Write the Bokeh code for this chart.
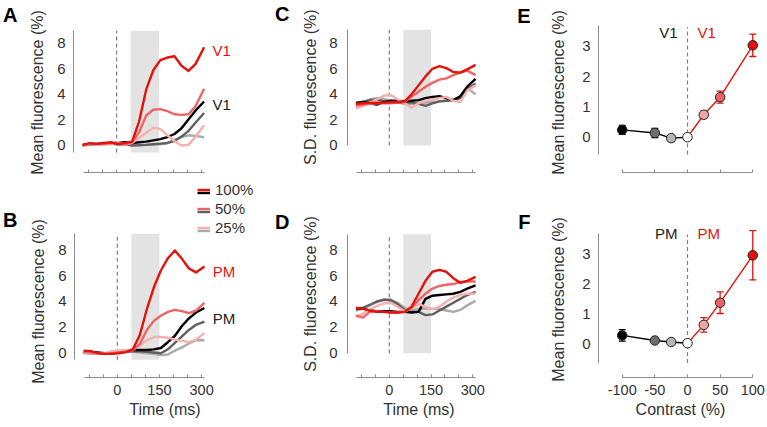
from bokeh.plotting import figure
from bokeh.models import (Range1d, FixedTicker, Legend, LegendItem, Label, LinearAxis,
                          Whisker, TeeHead, ColumnDataSource)
from bokeh.layouts import row, column
from bokeh.embed import file_html
from bokeh.resources import INLINE

# ---------------- data ----------------
time_ms = [-120, -95, -70, -45, -20, 5, 30, 55, 80, 105, 130, 155, 180, 205, 230, 255, 280, 310]
time_ticks = [-100, -50, 0, 50, 100, 150, 200, 250, 300]
time_tick_labels = {-100: "", -50: "", 0: "0", 50: "", 100: "", 150: "150", 200: "", 250: "", 300: "300"}
stim_on = 50
stim_off = 150

# A: V1 mean fluorescence
a_red100 = [0.05, 0.18, 0.13, 0.20, 0.25, 0.12, 0.20, 0.30, 1.90, 4.40, 5.90, 6.70, 6.90, 7.00, 6.25, 5.85, 6.40, 7.70]
a_red50 = [0.00, 0.10, 0.15, 0.10, 0.20, 0.15, 0.10, 0.25, 1.05, 2.35, 2.80, 2.85, 2.70, 2.45, 2.40, 2.45, 3.10, 4.45]
a_red25 = [-0.05, 0.15, 0.05, 0.20, 0.10, 0.25, 0.05, 0.20, 0.60, 1.00, 1.40, 1.30, 0.80, 0.35, 0.00, 0.05, 0.70, 1.60]
a_blk100 = [0.00, 0.15, 0.10, 0.15, 0.20, 0.20, 0.25, 0.20, 0.25, 0.30, 0.40, 0.50, 0.65, 0.90, 1.35, 2.05, 2.75, 3.45]
a_gry50 = [0.05, 0.10, 0.10, 0.15, 0.15, 0.10, 0.10, 0.00, 0.02, 0.05, 0.10, 0.15, 0.20, 0.35, 0.70, 1.15, 1.80, 2.55]
a_gry25 = [0.05, 0.10, 0.15, 0.10, 0.15, 0.10, 0.10, 0.05, 0.05, 0.05, 0.10, 0.10, 0.20, 0.45, 0.65, 0.80, 0.75, 0.65]

# B: PM mean fluorescence
b_red100 = [0.20, 0.16, 0.00, -0.05, -0.05, 0.00, 0.08, 0.29, 1.40, 3.40, 5.10, 6.40, 7.35, 7.95, 7.30, 6.55, 6.25, 6.70]
b_red50 = [0.10, 0.05, 0.00, -0.05, 0.00, 0.05, 0.10, 0.25, 0.70, 1.80, 2.50, 2.90, 3.20, 3.35, 3.25, 3.10, 3.30, 3.90]
b_red25 = [0.05, 0.00, -0.05, 0.00, 0.15, 0.20, 0.25, 0.25, 0.60, 1.00, 1.25, 1.25, 1.20, 1.05, 0.95, 0.85, 1.05, 1.55]
b_blk100 = [0.10, 0.10, 0.05, 0.00, 0.00, 0.05, 0.15, 0.25, 0.25, 0.25, 0.30, 0.40, 0.85, 1.35, 2.10, 2.70, 3.15, 3.50]
b_gry50 = [0.05, 0.00, -0.05, -0.05, 0.00, 0.05, 0.10, 0.15, 0.15, 0.10, 0.05, 0.00, 0.30, 0.80, 1.30, 1.80, 2.20, 2.45]
b_gry25 = [0.00, 0.00, -0.05, -0.05, 0.00, 0.05, 0.10, 0.10, 0.05, 0.00, -0.05, -0.15, -0.10, 0.20, 0.45, 0.75, 1.00, 1.00]

# C: V1 S.D. fluorescence
c_red100 = [3.26, 3.30, 3.33, 3.34, 3.35, 3.38, 3.40, 3.45, 4.00, 4.70, 5.40, 6.00, 6.20, 6.05, 5.75, 5.70, 5.95, 6.30]
c_red50 = [3.10, 3.20, 3.25, 3.30, 3.30, 3.30, 3.35, 3.40, 3.80, 4.20, 4.60, 4.90, 5.15, 5.25, 5.50, 5.70, 5.85, 5.50]
c_red25 = [2.90, 3.10, 3.35, 3.60, 3.90, 3.95, 3.60, 3.30, 2.95, 3.30, 3.50, 3.60, 3.70, 3.80, 3.50, 3.40, 4.30, 4.70]
c_blk100 = [3.33, 3.40, 3.30, 3.20, 3.40, 3.50, 3.50, 3.45, 3.50, 3.55, 3.70, 3.80, 3.85, 3.70, 3.55, 3.85, 4.60, 5.20]
c_gry50 = [3.30, 3.40, 3.55, 3.60, 3.45, 3.35, 3.35, 3.35, 3.35, 3.25, 3.10, 3.30, 3.45, 3.50, 3.55, 3.70, 4.40, 4.85]
c_gry25 = [3.20, 3.40, 3.60, 3.70, 3.65, 3.50, 3.35, 3.25, 3.25, 3.30, 3.35, 3.40, 3.45, 3.50, 3.55, 3.70, 4.50, 4.00]

# D: PM S.D. fluorescence
d_red100 = [3.50, 3.45, 3.30, 3.20, 3.20, 3.15, 3.15, 3.20, 3.60, 4.60, 5.60, 6.30, 6.45, 6.30, 5.80, 5.45, 5.60, 5.90]
d_red50 = [2.90, 2.75, 3.20, 3.25, 3.20, 3.15, 3.15, 3.20, 3.50, 4.10, 4.60, 5.00, 5.20, 5.30, 5.35, 5.50, 5.55, 5.55]
d_red25 = [2.85, 3.05, 3.40, 3.65, 3.85, 3.90, 3.60, 3.25, 3.45, 3.80, 3.60, 3.40, 3.60, 4.00, 4.30, 4.50, 4.60, 4.60]
d_blk100 = [3.50, 3.45, 3.30, 3.25, 3.25, 3.25, 3.20, 3.20, 3.15, 3.20, 4.20, 4.45, 4.50, 4.55, 4.60, 4.75, 5.00, 5.25]
d_gry50 = [3.40, 3.50, 3.75, 4.00, 4.15, 4.10, 3.80, 3.35, 3.20, 3.20, 2.95, 3.00, 3.30, 3.60, 3.90, 4.20, 4.50, 4.75]
d_gry25 = [3.30, 3.45, 3.70, 3.95, 4.10, 4.15, 3.90, 3.50, 3.30, 3.40, 3.45, 3.45, 3.40, 3.30, 3.20, 3.35, 3.70, 4.05]

# E/F: contrast response
contrast = [-100, -50, -25, 0, 25, 50, 100]
contrast_ticks = [-100, -50, 0, 50, 100]
contrast_tick_labels = {-100: "-100", -50: "-50", 0: "0", 50: "50", 100: "100"}
e_mean = [0.24, 0.14, -0.03, 0.00, 0.74, 1.32, 3.03]
e_err = [0.15, 0.15, 0.10, 0.00, 0.12, 0.20, 0.37]
f_mean = [0.28, 0.11, 0.06, 0.02, 0.63, 1.37, 2.95]
f_err = [0.19, 0.05, 0.04, 0.00, 0.24, 0.36, 0.82]

legend_labels = ["100%", "50%", "25%"]

# ---------------- style ----------------
FONT = "Liberation Sans"
TXT = "#333333"
AXC = "#8c8c8c"
RED = ["#e3120b", "#ee6464", "#f6b0b0"]
GRY = ["#000000", "#606060", "#aaaaaa"]
PT_COLORS = ["#000000", "#6e6e6e", "#b4b4b4", "#ffffff", "#f4a6a6", "#e86464", "#e3120b"]
SHADE = "#e3e3e3"
LW = 2.4


def base_fig(w, h, xr, yr, bl, br, bt, bb):
    p = figure(width=w, height=h, x_range=Range1d(*xr), y_range=Range1d(*yr),
               output_backend="svg", toolbar_location=None, tools="",
               min_border_left=bl, min_border_right=br,
               min_border_top=bt, min_border_bottom=bb)
    p.outline_line_color = None
    p.grid.visible = False
    p.background_fill_color = "white"
    p.border_fill_color = "white"
    return p


def style_axes(p, xticks, xbounds, xlabels, xtitle, yticks, ybounds, show_x, ystandoff):
    xa = p.xaxis[0]
    xa.ticker = FixedTicker(ticks=xticks)
    xa.bounds = xbounds
    xa.axis_line_color = AXC
    xa.major_tick_line_color = AXC
    xa.major_tick_in = 3
    xa.major_tick_out = 0
    xa.minor_tick_line_color = None
    xa.major_label_text_font = FONT
    xa.major_label_text_color = TXT
    if show_x:
        xa.major_label_overrides = xlabels
        xa.major_label_text_font_size = "14.5px"
        xa.major_label_standoff = 7
        xa.axis_label = xtitle
        xa.axis_label_text_font = FONT
        xa.axis_label_text_font_size = "16px"
        xa.axis_label_text_font_style = "normal"
        xa.axis_label_text_color = TXT
        xa.axis_label_standoff = 3
    else:
        xa.axis_label = None
        xa.major_label_overrides = {t: "" for t in xticks}
        xa.major_label_text_font_size = "0px"
        xa.major_label_standoff = 0

    ya = p.yaxis[0]
    ya.ticker = FixedTicker(ticks=yticks)
    ya.bounds = ybounds
    ya.axis_line_color = AXC
    ya.major_tick_line_color = None
    ya.major_tick_in = 0
    ya.major_tick_out = 0
    ya.minor_tick_line_color = None
    ya.major_label_text_font = FONT
    ya.major_label_text_font_size = "15px"
    ya.major_label_text_color = TXT
    ya.major_label_standoff = ystandoff
    ya.axis_label = None


def text_axis(p, val, text, size, bold, vertical, standoff, color):
    ax = LinearAxis(ticker=FixedTicker(ticks=[val]), major_label_overrides={val: text})
    ax.axis_line_color = None
    ax.major_tick_line_color = None
    ax.minor_tick_line_color = None
    ax.major_tick_in = 0
    ax.major_tick_out = 0
    ax.major_label_text_font = FONT
    ax.major_label_text_font_size = size
    ax.major_label_text_font_style = "bold" if bold else "normal"
    ax.major_label_text_color = color
    ax.major_label_standoff = standoff
    if vertical:
        ax.major_label_orientation = "vertical"
    p.add_layout(ax, "left")


def decorate(p, label_val, label_text, label_standoff, letter_val, letter, letter_standoff):
    text_axis(p, label_val, label_text, "16px", False, True, label_standoff, TXT)
    text_axis(p, letter_val, letter, "20px", True, False, letter_standoff, "#000000")


def time_panel(w, h, xr, yr, bl, br, bt, bb, reds, grays, ybox, show_x, ystandoff):
    p = base_fig(w, h, xr, yr, bl, br, bt, bb)
    p.quad(left=[stim_on], right=[stim_off], bottom=[ybox[0]], top=[ybox[1]],
           fill_color=SHADE, line_color=None)
    p.segment(x0=[0], y0=[ybox[0]], x1=[0], y1=[ybox[1]], line_color="#808080",
              line_width=1.2, line_dash="4 3")
    gr = []
    for series, col in zip(grays[::-1], GRY[::-1]):
        gr.append(p.line(time_ms, series, line_color=col, line_width=LW, line_join="round"))
    rr = []
    for series, col in zip(reds[::-1], RED[::-1]):
        rr.append(p.line(time_ms, series, line_color=col, line_width=LW, line_join="round"))
    style_axes(p, time_ticks, (-118, 310), time_tick_labels, "Time (ms)",
               [0, 2, 4, 6, 8], ybox, show_x, ystandoff)
    return p, rr[::-1], gr[::-1]


def contrast_panel(w, h, xr, yr, bl, br, bt, bb, mean, err, ybounds, show_x):
    p = base_fig(w, h, xr, yr, bl, br, bt, bb)
    p.segment(x0=[0], y0=[ybounds[0]], x1=[0], y1=[ybounds[1] - 0.05], line_color="#808080",
              line_width=1.2, line_dash="4 3")
    p.line(contrast[:4], mean[:4], line_color="#000000", line_width=1.4)
    p.line(contrast[3:], mean[3:], line_color=RED[0], line_width=1.4)
    up = [m + e for m, e in zip(mean, err)]
    lo = [m - e for m, e in zip(mean, err)]
    for idx, col in (([0, 1, 2], "#000000"), ([4, 5, 6], RED[0])):
        src = ColumnDataSource(dict(x=[contrast[i] for i in idx], upper=[up[i] for i in idx],
                                    lower=[lo[i] for i in idx]))
        p.add_layout(Whisker(source=src, base="x", upper="upper", lower="lower",
                             line_color=col, line_width=1.3,
                             upper_head=TeeHead(size=7, line_color=col, line_width=1.3),
                             lower_head=TeeHead(size=7, line_color=col, line_width=1.3)))
    src = ColumnDataSource(dict(x=contrast, y=mean, c=PT_COLORS))
    p.scatter(x="x", y="y", source=src, size=9.5, fill_color="c", line_color="#222222", line_width=1)
    style_axes(p, contrast_ticks, (-100, 100), contrast_tick_labels, "Contrast (%)",
               [0, 1, 2, 3], ybounds, show_x, 8)
    return p


def region_label(p, x, y, text, color, xoff=0, align="left"):
    p.add_layout(Label(x=x, y=y, x_offset=xoff, text=text, text_font=FONT, text_font_size="15px",
                       text_color=color, text_baseline="middle", text_align=align))


# ---------------- layout geometry ----------------
W1, W2, W3 = 272, 242, 253
H1, H2 = 181, 246
MEAN_T = "Mean fluorescence (%)"
SD_T = "S.D. fluorescence (%)"

# Panel A
pA, rA, gA = time_panel(W1, H1, (-152.5, 491.9), (-2.118, 10.353), 72, 17, 13, 9,
                        [a_red100, a_red50, a_red25], [a_blk100, a_gry50, a_gry25],
                        (-0.55, 9.0), False, 8)
decorate(pA, 4.157, MEAN_T, 8, 10.235, "A", 9)
region_label(pA, 340, 7.45, "V1", RED[0])
region_label(pA, 340, 3.2, "V1", "#222222")

# Panel B
pB, rB, gB = time_panel(W1, H2, (-152.5, 491.9), (-1.880, 13.284), 72, 17, 0, 50,
                        [b_red100, b_red50, b_red25], [b_blk100, b_gry50, b_gry25],
                        (-0.5, 9.25), True, 8)
decorate(pB, 4.0, MEAN_T, 8, 10.27, "B", 10)
region_label(pB, 340, 6.35, "PM", RED[0])
region_label(pB, 340, 2.7, "PM", "#222222")


def make_legend(renderers, labels, loc):
    return Legend(items=[LegendItem(label=lab, renderers=[r]) for lab, r in zip(labels, renderers)],
                  location=loc, orientation="vertical", glyph_width=13, glyph_height=17,
                  label_height=17, label_standoff=5, spacing=2, padding=0, margin=0,
                  border_line_color=None, background_fill_alpha=0,
                  label_text_font=FONT, label_text_font_size="15px",
                  label_text_color=TXT)


pB.add_layout(make_legend(rB, legend_labels, (123, 141)))
pB.add_layout(make_legend(gB, [" ", " ", " "], (123, 138)))

# Panel C
pC, rC, gC = time_panel(W2, H1, (-150.4, 363.7), (-2.111, 10.32), 72, 24, 13, 9,
                        [c_red100, c_red50, c_red25], [c_blk100, c_gry50, c_gry25],
                        (0, 9.05), False, 10)
decorate(pC, 4.558, SD_T, 7, 10.27, "C", 10)

# Panel D
pD, rD, gD = time_panel(W2, H2, (-150.4, 363.7), (-1.880, 13.284), 72, 24, 0, 50,
                        [d_red100, d_red50, d_red25], [d_blk100, d_gry50, d_gry25],
                        (0, 9.2), True, 10)
decorate(pD, 4.58, SD_T, 7, 10.15, "D", 10)

# Panel E
pE = contrast_panel(W3, H1, (-136.3, 114.9), (-1.164, 4.078), 84, 5, 13, 9,
                    e_mean, e_err, (-0.57, 3.68), False)
decorate(pE, 1.474, MEAN_T, 12, 4.01, "E", 17)
region_label(pE, 0, 3.46, "V1", "#222222", -10, "right")
region_label(pE, 0, 3.46, "V1", RED[0], 10, "left")

# Panel F
pF = contrast_panel(W3, H2, (-136.3, 114.9), (-1.123, 5.41), 84, 5, 0, 50,
                    f_mean, f_err, (-0.64, 3.69), True)
decorate(pF, 1.477, MEAN_T, 12, 4.06, "F", 17)
region_label(pF, 0, 3.67, "PM", "#222222", -10, "right")
region_label(pF, 0, 3.67, "PM", RED[0], 10, "left")

layout = column(row(pA, pC, pE), row(pB, pD, pF))

open("out.html", "w").write(file_html(layout, INLINE))
